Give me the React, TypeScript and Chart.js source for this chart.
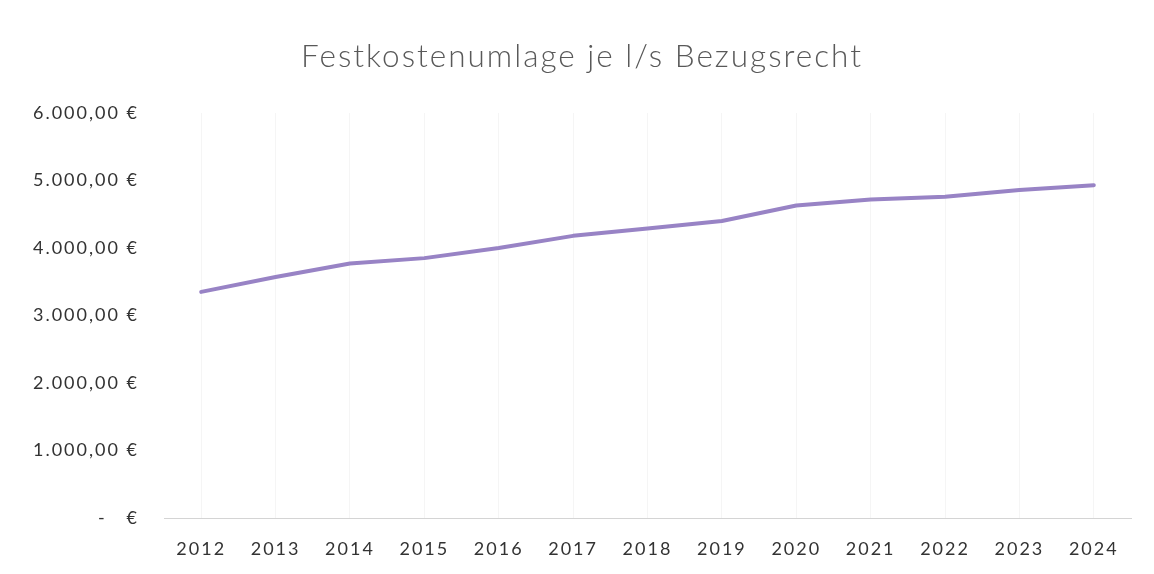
import React, { useEffect, useRef } from "react";
import { Chart, registerables } from "chart.js";

Chart.register(...registerables);

const years = ["2012", "2013", "2014", "2015", "2016", "2017", "2018", "2019", "2020", "2021", "2022", "2023", "2024"];
const umlage = [3350, 3570, 3770, 3850, 4000, 4180, 4290, 4400, 4630, 4720, 4760, 4860, 4930];
const chartTitle = "Festkostenumlage je l/s Bezugsrecht";

const formatEuro = (v: number) => {
  if (v === 0) return "-   €";
  const s = v.toFixed(2).split(".");
  const intPart = s[0].replace(/\B(?=(\d{3})+(?!\d))/g, ".");
  return intPart + "," + s[1] + " €";
};

const spacingPlugin = {
  id: "letterSpacing",
  beforeLayout(chart: any) {
    (chart.ctx as any).letterSpacing = "2px";
  },
  beforeDraw(chart: any) {
    (chart.ctx as any).letterSpacing = "2px";
  },
};

const titlePlugin = {
  id: "customTitle",
  afterDraw(chart: any) {
    const c = chart.ctx;
    c.save();
    (c as any).letterSpacing = "2px";
    c.font = "300 31.5px Lato";
    c.fillStyle = "#595959";
    c.textAlign = "center";
    c.textBaseline = "middle";
    c.fillText(chartTitle, 582, 57);
    c.restore();
  },
};

export default function App() {
  const ref = useRef<HTMLCanvasElement | null>(null);
  useEffect(() => {
    document.body.style.margin = "0";
    const ctx = ref.current!;
    const chart = new Chart(ctx, {
      type: "line",
      data: {
        labels: years,
        datasets: [
          {
            data: umlage,
            borderColor: "#9883c5",
            borderWidth: 4,
            pointRadius: 0,
            tension: 0,
            borderJoinStyle: "round",
            borderCapStyle: "round",
          },
        ],
      },
      plugins: [spacingPlugin, titlePlugin],
      options: {
        responsive: false,
        animation: false,
        layout: { padding: { left: 0, right: 23, top: 113, bottom: 0 } },
        plugins: {
          legend: { display: false },
          tooltip: { enabled: false },
          title: { display: false },
        },
        scales: {
          x: {
            offset: true,
            grid: {
              offset: false,
              display: true,
              color: "rgba(0,0,0,0.04)",
              drawTicks: false,
            },
            border: { display: true, color: "#d4d4d4", width: 1 },
            ticks: {
              color: "#333333",
              font: { family: "Lato", size: 18 },
              padding: 20,
              maxRotation: 0,
            },
            afterFit: (scale: any) => {
              scale.height = 56;
            },
          },
          y: {
            min: 0,
            max: 6000,
            grid: { display: false, drawTicks: false },
            border: { display: false },
            ticks: {
              stepSize: 1000,
              color: "#333333",
              font: { family: "Lato", size: 18 },
              padding: 25,
              callback: (v: any) => formatEuro(Number(v)),
            },
            afterFit: (scale: any) => {
              scale.width = 164;
            },
          },
        },
      },
    });
    return () => chart.destroy();
  }, []);
  return (
    <div style={{ width: 1154, height: 574, background: "#ffffff" }}>
      <canvas ref={ref} width={1154} height={574} />
    </div>
  );
}
